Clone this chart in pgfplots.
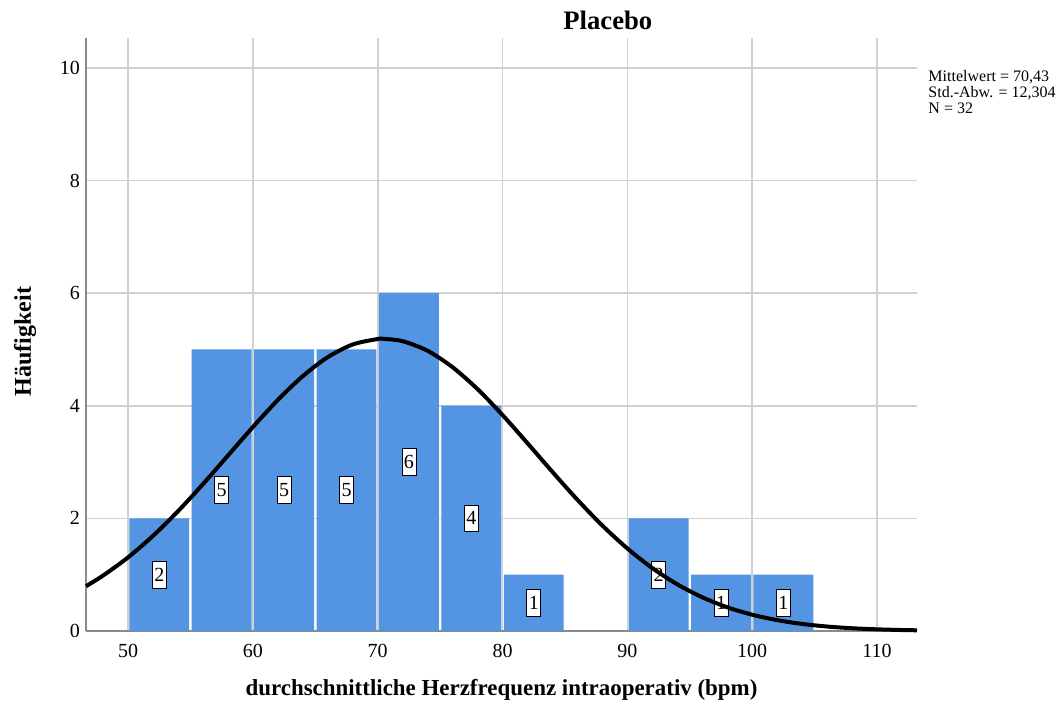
\documentclass[border=0pt]{standalone}
\usepackage{fontspec}
\setmainfont{Liberation Serif}
\usepackage{pgfplots}
\pgfplotsset{compat=1.18}
\definecolor{barblue}{HTML}{5394E3}
\definecolor{gridgrey}{HTML}{D0D0D0}
\definecolor{axisgrey}{HTML}{8A8A8A}
\begin{document}
\begin{tikzpicture}
\begin{axis}[
  at={(0,0)}, anchor=south west,
  set layers,
  scale only axis, width=623.25pt, height=444.75pt,
  xmin=46.63, xmax=113.2, ymin=0, ymax=10.53,
  axis x line=bottom, axis y line=left,
  axis line style={axisgrey, line width=1pt, -},
  xtick={50,60,...,110}, ytick={0,2,...,10},
  major tick length=0pt,
  grid=major, major grid style={gridgrey, line width=1.2pt},
  tick label style={font=\fontsize{15}{18}\selectfont},
  /pgf/number format/assume math mode=true,
  xticklabel style={yshift=-6pt},
  yticklabel style={xshift=-1pt},
  xlabel={\textbf{durchschnittliche Herzfrequenz intraoperativ (bpm)}},
  ylabel={\textbf{Häufigkeit}},
  xlabel style={at={(axis description cs:0.5,0)}, anchor=center, yshift=-44.5pt, font=\fontsize{17.2}{21}\selectfont},
  ylabel style={at={(axis description cs:-0.0734,0.488)}, anchor=center, font=\fontsize{18}{22}\selectfont},
  clip=false,
]
\addplot[ybar, bar width=4.8, fill=barblue, draw=none] coordinates {
  (52.5,2) (57.5,5) (62.5,5) (67.5,5) (72.5,6) (77.5,4) (82.5,1) (92.5,2) (97.5,1) (102.5,1)
};
\addplot[only marks, mark=none,
  nodes near coords, point meta=explicit symbolic,
  every node near coord/.style={anchor=center, fill=white, draw=black, line width=0.6pt,
    inner sep=1.5pt, minimum height=20pt, font=\fontsize{15}{18}\selectfont}]
  table[meta=lab] {
x y lab
52.5 1 2
57.5 2.5 5
62.5 2.5 5
67.5 2.5 5
72.5 3 6
77.5 2 4
82.5 0.5 1
92.5 1 2
97.5 0.5 1
102.5 0.5 1
};
\addplot[black, line width=3pt, smooth, on layer=axis foreground] coordinates {
  (46.63,0.795) (48,0.985) (50,1.307) (52,1.690) (54,2.127) (56,2.608) (58,3.115)
  (60,3.622) (62,4.103) (64,4.526) (66,4.863) (68,5.088) (70,5.185) (70.43,5.188)
  (72,5.146) (74,4.975) (76,4.683) (78,4.294) (80,3.834) (82,3.334) (84,2.824)
  (86,2.329) (88,1.871) (90,1.465) (92,1.116) (94,0.828) (96,0.599) (98,0.421)
  (100,0.289) (102,0.193) (104,0.1255) (106,0.0795) (108,0.049) (110,0.0295)
  (112,0.0172) (113.2,0.0123)
};
\node[font=\bfseries\fontsize{20}{24}\selectfont, anchor=center] at (rel axis cs:0.628,1.030) {Placebo};
\node[anchor=north west, align=left, inner sep=0pt, font=\fontsize{12}{12}\selectfont]
  at (rel axis cs:1.0135,0.946) {Mittelwert = 70,43\\Std.-Abw. = 12,304\\N = 32};
\end{axis}
\path[use as bounding box] (-64.5pt,-56.25pt) rectangle (730.5pt,473.25pt);
\end{tikzpicture}
\end{document}
